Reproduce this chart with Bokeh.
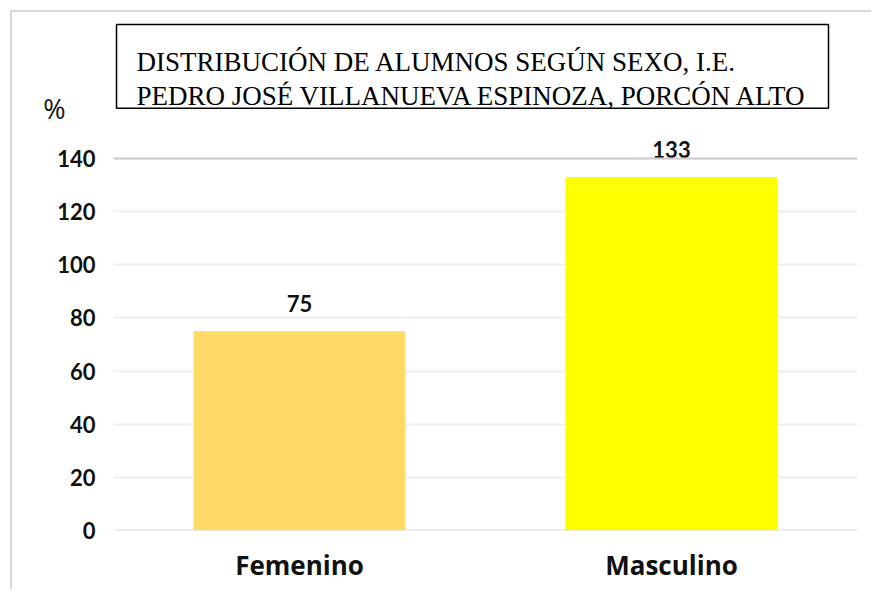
from bokeh.plotting import figure
from bokeh.models import (FactorRange, Range1d, FixedTicker, BoxAnnotation,
                          Label, Span, ColumnDataSource, LinearAxis)
from bokeh.embed import file_html
from bokeh.resources import INLINE
from bokeh.core.properties import value

categories = ["Femenino", "Masculino"]
values = [75, 133]
bar_colors = ["#FFD966", "#FFFF00"]
y_ticks = [0, 20, 40, 60, 80, 100, 120, 140]
title_line1 = "DISTRIBUCIÓN DE ALUMNOS SEGÚN SEXO, I.E."
title_line2 = "PEDRO JOSÉ VILLANUEVA ESPINOZA, PORCÓN ALTO"
y_unit = "%"

src = ColumnDataSource(dict(cat=categories, val=values, color=bar_colors,
                            label=[str(v) for v in values]))

# figure placed at page offset (12, 12) via CSS margin
OFF = 12
PX_PER_UNIT = 372.0 / 140.0
W, H = 861, 579
FRAME_LEFT, FRAME_RIGHT = 113 - OFF, 857 - OFF
FRAME_TOP, FRAME_BOTTOM = 16 - OFF, 530 - OFF
y_end = (FRAME_BOTTOM - FRAME_TOP) / PX_PER_UNIT

p = figure(x_range=FactorRange(*categories), y_range=Range1d(0, y_end),
           width=W, height=H, output_backend="svg", toolbar_location=None,
           min_border_left=FRAME_LEFT, min_border_right=W - FRAME_RIGHT,
           min_border_top=FRAME_TOP, min_border_bottom=H - FRAME_BOTTOM)
p.styles = {"margin-left": f"{OFF}px", "margin-top": f"{OFF}px",
            "box-shadow": "-2px -2px 0 0 #d9d9d9"}

p.vbar(x="cat", top="val", width=0.57, source=src, fill_color="color",
       line_color=None)
p.text(x="cat", y="val", text="label", source=src, text_align="center",
       text_baseline="bottom", y_offset=-19, text_font=value("Lato"),
       text_font_style="bold", text_font_size="22px", text_color="#111111")

p.outline_line_color = None
p.xgrid.grid_line_color = None
p.ygrid.ticker = FixedTicker(ticks=y_ticks)
p.ygrid.grid_line_color = "#ededed"
p.ygrid.grid_line_width = 2
p.add_layout(Span(location=140, dimension="width", line_color="#cbcbcb", line_width=2))
p.add_layout(Span(location=0, dimension="width", line_color="#d9d9d9", line_width=2))

p.yaxis.ticker = FixedTicker(ticks=y_ticks)
for ax in (p.xaxis[0], p.yaxis[0]):
    ax.axis_line_color = None
    ax.major_tick_line_color = None
    ax.minor_tick_line_color = None
    ax.major_tick_out = 0
    ax.major_tick_in = 0
    ax.minor_tick_out = 0
    ax.major_label_text_font_style = "bold"
    ax.major_label_text_color = "#111111"
p.yaxis.major_label_text_font = "Lato"
p.yaxis.major_label_text_font_size = "22px"
p.yaxis.major_label_standoff = 18
p.xaxis.major_label_text_font = "Open Sans"
p.xaxis.major_label_text_font_size = "26px"
p.xaxis.major_label_standoff = 16

# unit marker "%" as a second left axis with a single labelled tick
UNIT_POS = 159
unit_axis = LinearAxis(ticker=FixedTicker(ticks=[UNIT_POS]),
                       major_label_overrides={UNIT_POS: y_unit},
                       axis_line_color=None, major_tick_line_color=None,
                       minor_tick_line_color=None, major_tick_out=0,
                       major_tick_in=0, minor_tick_out=0,
                       major_label_standoff=-11,
                       major_label_text_font="Open Sans",
                       major_label_text_font_size="27px",
                       major_label_text_color="#111111")
p.add_layout(unit_axis, "left")

def yv(ref_px):
    return (530 - ref_px) / PX_PER_UNIT

def xv(ref_px):
    return (ref_px - 113) / 372.0

p.add_layout(BoxAnnotation(left=xv(116), right=xv(828), top=yv(24),
                           bottom=yv(107.7), fill_alpha=0, line_color="black",
                           line_width=1.5, line_alpha=1))
for txt, base in ((title_line1, 61), (title_line2, 95)):
    p.add_layout(Label(x=xv(136), y=yv(base), text=txt,
                       text_font="Liberation Serif", text_font_size="27px",
                       text_baseline="alphabetic", text_color="black"))

open("out.html", "w").write(file_html(p, INLINE))
